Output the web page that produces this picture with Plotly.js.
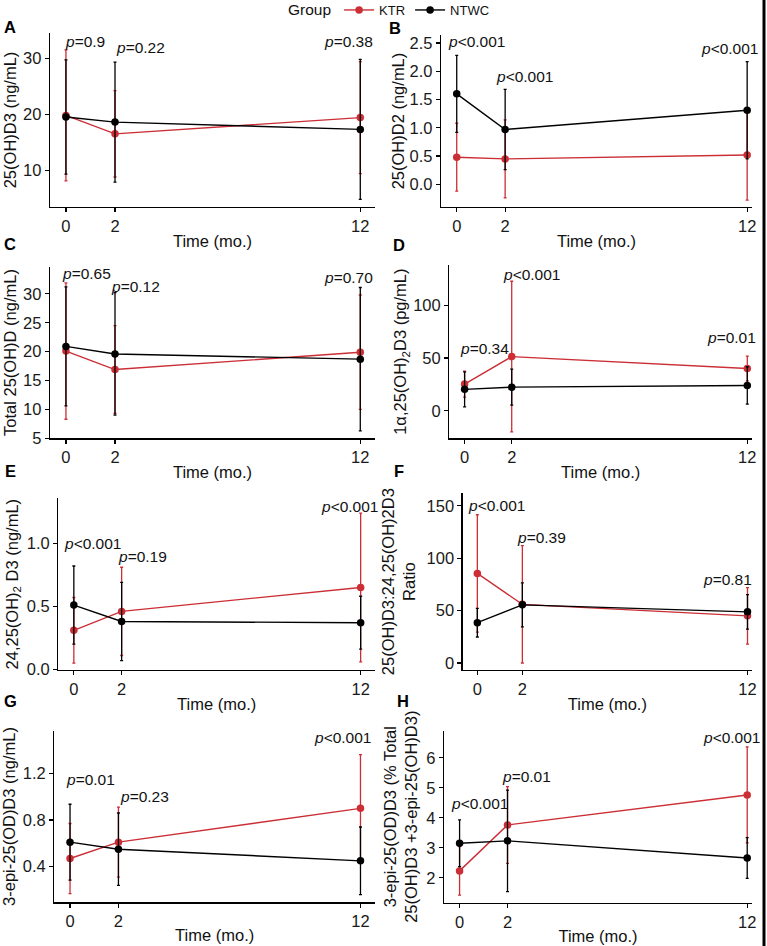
<!DOCTYPE html>
<html><head><meta charset="utf-8">
<script src="https://cdn.plot.ly/plotly-3.0.1.min.js"></script>
<style>html,body{margin:0;padding:0;background:#fff}#chart{width:767px;height:946px}</style>
</head><body><div id="chart"></div>
<script>
// ---------- data ----------
const time = [0, 2, 12];
const groupNames = ['KTR', 'NTWC'];
const groupColors = ['#CB2E35', '#000000'];

// A: 25(OH)D3 (ng/mL)
const d3_KTR = [19.8, 16.5, 19.4];      const d3_KTR_sd = [11.7, 7.7, 10.0];
const d3_NTWC = [19.5, 18.6, 17.3];     const d3_NTWC_sd = [10.2, 10.7, 12.5];
const d3_p = ['=0.9', '=0.22', '=0.38'];
// B: 25(OH)D2 (ng/mL)
const d2_KTR = [0.48, 0.45, 0.52];      const d2_KTR_sd = [0.60, 0.69, 0.80];
const d2_NTWC = [1.60, 0.97, 1.31];     const d2_NTWC_sd = [0.68, 0.71, 0.86];
const d2_p = ['&lt;0.001', '&lt;0.001', '&lt;0.001'];
// C: Total 25(OH)D (ng/mL)
const tot_KTR = [20.1, 16.9, 19.9];     const tot_KTR_sd = [11.8, 7.6, 9.9];
const tot_NTWC = [20.9, 19.6, 18.7];    const tot_NTWC_sd = [10.3, 10.6, 12.4];
const tot_p = ['=0.65', '=0.12', '=0.70'];
// D: 1a,25(OH)2D3 (pg/mL)
const cal_KTR = [25.3, 51.3, 40.1];     const cal_KTR_sd = [12.3, 71.3, 11.7];
const cal_NTWC = [20.3, 22.4, 24.0];    const cal_NTWC_sd = [16.5, 17.0, 17.7];
const cal_p = ['=0.34', '&lt;0.001', '=0.01'];
// E: 24,25(OH)2 D3 (ng/mL)
const d24_KTR = [0.31, 0.46, 0.65];     const d24_KTR_sd = [0.26, 0.35, 0.59];
const d24_NTWC = [0.51, 0.38, 0.37];    const d24_NTWC_sd = [0.31, 0.31, 0.21];
const d24_p = ['&lt;0.001', '=0.19', '&lt;0.001'];
// F: 25(OH)D3:24,25(OH)2D3 ratio
const rat_KTR = [85.5, 56.0, 45.0];     const rat_KTR_sd = [56.0, 56.0, 27.0];
const rat_NTWC = [38.5, 55.5, 48.8];    const rat_NTWC_sd = [13.7, 21.0, 16.4];
const rat_p = ['&lt;0.001', '=0.39', '=0.81'];
// G: 3-epi-25(OD)D3 (ng/mL)
const epi_KTR = [0.47, 0.61, 0.90];     const epi_KTR_sd = [0.30, 0.30, 0.46];
const epi_NTWC = [0.61, 0.55, 0.45];    const epi_NTWC_sd = [0.325, 0.31, 0.29];
const epi_p = ['=0.01', '=0.23', '&lt;0.001'];
// H: 3-epi % of total
const pct_KTR = [2.23, 3.76, 4.76];     const pct_KTR_sd = [0.81, 1.28, 1.60];
const pct_NTWC = [3.15, 3.23, 2.66];    const pct_NTWC_sd = [0.78, 1.69, 0.68];
const pct_p = ['&lt;0.001', '=0.01', '&lt;0.001'];

// ---------- layout / style config ----------
const W = 767, H = 946;
const FS = 16.5;     // tick labels, axis titles
const PFS = 15.5;    // p-value labels
const FONT = 'Liberation Sans, Arial, sans-serif';
const panels = [
  {letter:'A', box:[50,375,33,207], yr:[3.45,34.5], yt:[10,20,30], fmt:'', xr:[-0.65,12.6],
   ytitle:'25(OH)D3 (ng/mL)', ys:2, xs:1, k:d3_KTR, ksd:d3_KTR_sd, n:d3_NTWC, nsd:d3_NTWC_sd, p:d3_p,
   px:[-0.08,2.0,10.49], py:[32.96,31.96,32.96]},
  {letter:'B', box:[441,752,35,207], yr:[-0.40,2.64], yt:[0,0.5,1,1.5,2,2.5], fmt:'.1f', xr:[-0.65,12.2],
   ytitle:'25(OH)D2 (ng/mL)', ys:0, xs:1, k:d2_KTR, ksd:d2_KTR_sd, n:d2_NTWC, nsd:d2_NTWC_sd, p:d2_p,
   px:[-0.41,1.58,10.07], py:[2.52,1.91,2.41]},
  {letter:'C', box:[50,375,266.7,438.3], yr:[5.0,34.7], yt:[5,10,15,20,25,30], fmt:'', xr:[-0.65,12.6],
   ytitle:'Total 25(OH)D (ng/mL)', ys:2, xs:1, k:tot_KTR, ksd:tot_KTR_sd, n:tot_NTWC, nsd:tot_NTWC_sd, p:tot_p,
   px:[-0.22,1.8,10.5], py:[33.5,31.3,32.9]},
  {letter:'D', box:[449.3,752,265,438.3], yr:[-26,138], yt:[0,50,100], fmt:'', xr:[-0.65,12.2],
   ytitle:'1α,25(OH)<sub>2</sub>D3 (pg/mL)', ys:2, xs:1, k:cal_KTR, ksd:cal_KTR_sd, n:cal_NTWC, nsd:cal_NTWC_sd, p:cal_p,
   px:[-0.25,1.59,10.25], py:[59,129.4,69.5]},
  {letter:'E', box:[58.3,375,498.3,670], yr:[-0.005,1.357], yt:[0,0.5,1], fmt:'.1f', xr:[-0.65,12.6],
   ytitle:'24,25(OH)<sub>2</sub> D3 (ng/mL)', ys:4, xs:1, k:d24_KTR, ksd:d24_KTR_sd, n:d24_NTWC, nsd:d24_NTWC_sd, p:d24_p,
   px:[-0.45,1.8,10.29], py:[1.0,0.895,1.29]},
  {letter:'F', box:[462.7,752,493.3,670], yr:[-6.7,162], yt:[0,50,100,150], fmt:'', xr:[-0.65,12.2],
   ytitle:'25(OH)D3:24,25(OH)2D3<br>Ratio', ys:6, xs:1, k:rat_KTR, ksd:rat_KTR_sd, n:rat_NTWC, nsd:rat_NTWC_sd, p:rat_p,
   px:[-0.44,1.71,9.98], py:[150,120,79.4]},
  {letter:'G', box:[54.3,375,730.7,902.3], yr:[0.095,1.565], yt:[0.4,0.8,1.2], fmt:'.1f', xr:[-0.65,12.6],
   ytitle:'3-epi-25(OD)D3 (ng/mL)', ys:3, xs:0, k:epi_KTR, ksd:epi_KTR_sd, n:epi_NTWC, nsd:epi_NTWC_sd, p:epi_p,
   px:[-0.22,2.02,10.04], py:[1.151,1.0,1.509]},
  {letter:'H', box:[444,752,730.7,902.7], yr:[1.17,6.9], yt:[2,3,4,5,6], fmt:'', xr:[-0.65,12.2],
   ytitle:'3-epi-25(OD)D3 (% Total<br>25(OH)D3 +3-epi-25(OH)D3)', ys:4, xs:0, k:pct_KTR, ksd:pct_KTR_sd, n:pct_NTWC, nsd:pct_NTWC_sd, p:pct_p,
   px:[-0.42,1.74,10.1], py:[4.48,5.37,6.68]}
];
const letterPos = {A:[10,27], B:[395,28], C:[10,244], D:[399,245], E:[10,471], F:[399,471], G:[10,701], H:[403,701]};

const traces = [];
const layout = {
  width: W, height: H, margin:{l:0,r:0,t:0,b:0,autoexpand:false},
  paper_bgcolor:'#ffffff', plot_bgcolor:'#ffffff',
  font:{family:FONT, size:FS, color:'#111111'},
  showlegend:true,
  legend:{orientation:'h', x:286/W, xanchor:'left', y:1+5/H, yanchor:'top',
          title:{text:'Group', side:'left', font:{size:15.5, color:'#111'}},
          font:{size:13, color:'#111'}, bgcolor:'rgba(0,0,0,0)', itemwidth:30, tracegroupgap:0},
  annotations:[], shapes:[]
};

panels.forEach((pn, i) => {
  const s = i === 0 ? '' : String(i + 1);
  const xa = 'x' + s, ya = 'y' + s;
  const [x0, x1, yT, yB] = pn.box;
  const series = [[pn.k, pn.ksd], [pn.n, pn.nsd]];
  series.forEach((sr, g) => {
    traces.push({
      type:'scatter', mode:'lines+markers', x:time, y:sr[0], name:groupNames[g],
      legendgroup:groupNames[g], showlegend: i === 0,
      xaxis:xa, yaxis:ya, cliponaxis:false,
      line:{color:groupColors[g], width:1.4},
      marker:{color:groupColors[g], size:7.5},
      error_y:{type:'data', array:sr[1], visible:true, color:groupColors[g], thickness:1.3, width:1.5}
    });
  });
  const axBase = {showline:true, linecolor:'#000', linewidth:1.3, ticks:'outside', ticklen:4,
    tickwidth:1.2, tickcolor:'#000', showgrid:false, zeroline:false,
    tickfont:{size:FS, color:'#1a1a1a', family:FONT}};
  layout['xaxis' + s] = Object.assign({}, axBase, {
    domain:[x0 / W, x1 / W], range:pn.xr, anchor:ya, tickvals:time, ticktext:time.map(String),
    title:{text:'Time (mo.)', font:{size:FS, color:'#111'}, standoff:pn.xs}
  });
  layout['yaxis' + s] = Object.assign({}, axBase, {
    domain:[1 - yB / H, 1 - yT / H], range:pn.yr, anchor:xa, tickvals:pn.yt, tickformat:pn.fmt,
    title:{text:pn.ytitle, font:{size:FS, color:'#111'}, standoff:pn.ys}
  });
  pn.p.forEach((t, j) => {
    layout.annotations.push({xref:xa, yref:ya, x:pn.px[j], y:pn.py[j], xanchor:'left', yanchor:'middle',
      text:'<i>p</i>' + t, showarrow:false, font:{size:PFS, color:'#111'}, borderpad:0});
  });
  const lp = letterPos[pn.letter];
  layout.annotations.push({xref:'paper', yref:'paper', x:lp[0] / W, y:1 - lp[1] / H, xanchor:'center', yanchor:'middle',
    text:'<b>' + pn.letter + '</b>', showarrow:false, font:{size:16.5, color:'#000'}});
});

// dark border at the right edge of the figure
layout.shapes.push({type:'line', xref:'paper', yref:'paper', x0:764 / W, x1:764 / W, y0:0, y1:1,
  line:{color:'#000', width:3}});

Plotly.newPlot('chart', traces, layout, {staticPlot:true, displayModeBar:false});
</script>
</body></html>
